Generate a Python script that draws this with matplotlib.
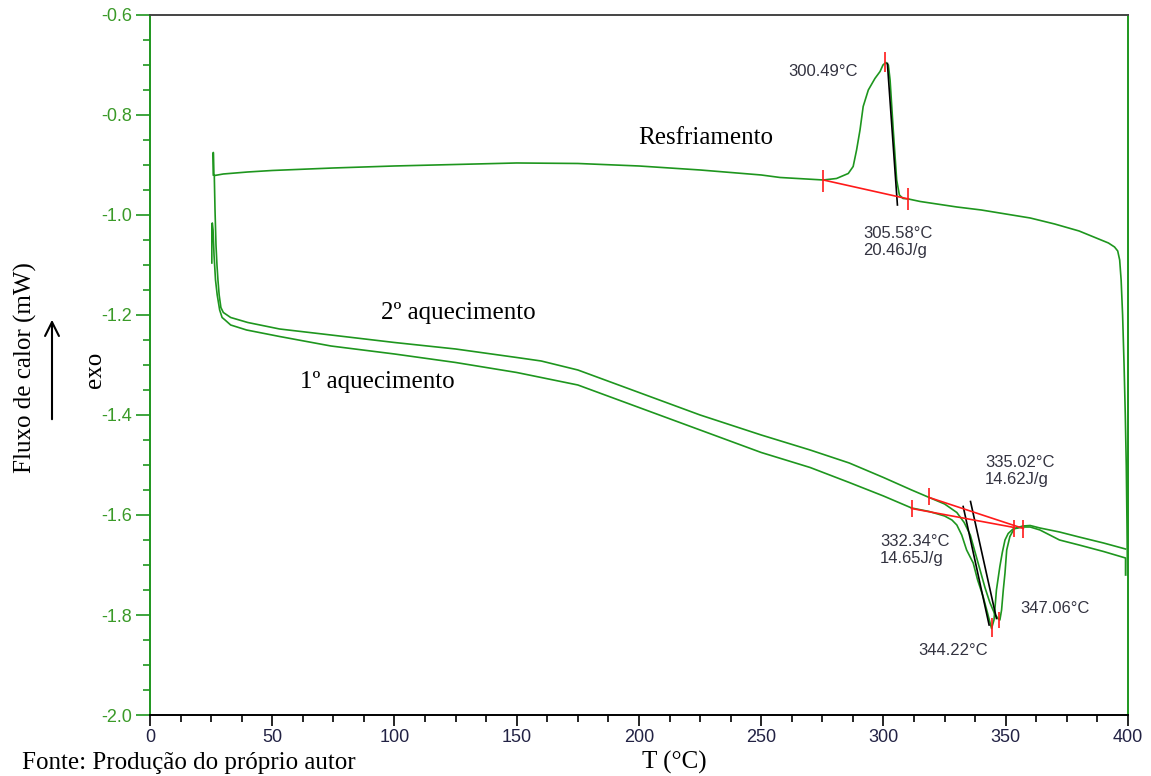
import matplotlib
matplotlib.use("Agg")
import matplotlib.pyplot as plt
from matplotlib.ticker import MultipleLocator, FormatStrFormatter

plt.rcParams['axes.unicode_minus'] = False

# cooling run (Resfriamento)
cool_T = [25.9, 25.9, 26.1, 26.5, 30, 40, 50, 75, 100, 125, 150, 175, 200, 225, 250,
          257.7, 275.4, 280.8, 285.6, 287.6, 289.0, 290.4, 291.7, 293.8, 296.5, 298.6,
          299.8, 301.0, 302.0, 302.7, 304.0, 304.7, 305.4, 306.5, 308.0, 310.2, 315,
          330, 340, 350, 360, 370, 380, 388, 392, 394.5, 395.8, 396.6, 397.2, 397.8,
          398.4, 398.9, 399.3, 399.6, 399.8]
cool_y = [-0.92, -0.875, -0.92, -0.921, -0.918, -0.914, -0.911, -0.906, -0.902, -0.899,
          -0.896, -0.897, -0.902, -0.91, -0.92, -0.925, -0.93, -0.927, -0.917, -0.903,
          -0.87, -0.83, -0.783, -0.75, -0.727, -0.713, -0.70, -0.695, -0.70, -0.73,
          -0.83, -0.88, -0.93, -0.96, -0.967, -0.968, -0.973, -0.984, -0.99, -0.998,
          -1.006, -1.018, -1.032, -1.048, -1.056, -1.064, -1.072, -1.09, -1.13, -1.2,
          -1.3, -1.4, -1.5, -1.62, -1.72]

# 2nd heating (2º aquecimento)
h2_T = [26.3, 26.6, 27.0, 27.4, 27.8, 28.3, 29.0, 30, 33, 40, 53, 74, 100, 125, 150, 160,
        175, 200, 225, 250, 270, 286, 300, 311.5, 318.7, 325, 330, 333, 335.5, 337.5,
        339.5, 341.5, 343.5, 345.5, 347, 347.6, 348.3, 349, 349.7, 350.4, 351.7, 353.5,
        357, 360, 364, 368, 372, 380, 390, 399]
h2_y = [-0.92, -0.99, -1.06, -1.10, -1.13, -1.16, -1.185, -1.195, -1.205, -1.215, -1.228,
        -1.24, -1.255, -1.268, -1.285, -1.292, -1.31, -1.355, -1.40, -1.44, -1.47, -1.496,
        -1.525, -1.55, -1.565, -1.578, -1.595, -1.615, -1.64, -1.675, -1.71, -1.745,
        -1.775, -1.798, -1.808, -1.81, -1.79, -1.75, -1.716, -1.67, -1.643, -1.627,
        -1.622, -1.621, -1.626, -1.63, -1.634, -1.644, -1.656, -1.668]

# 1st heating (1º aquecimento)
h1_T = [25.3, 25.3, 25.5, 25.8, 26.2, 26.8, 27.5, 28.5, 29.5, 30.7, 33, 39.5, 53, 74, 100,
        125, 150, 175, 200, 225, 250, 270, 286, 300, 311.5, 318.7, 325, 328, 330, 332,
        334, 336.7, 338.5, 340.8, 342.5, 344.2, 345.2, 346.2, 347.6, 348.6, 349.7, 351,
        353, 357, 360, 364, 368, 372, 380, 390, 399, 399]
h1_y = [-1.096, -1.02, -1.016, -1.03, -1.08, -1.13, -1.16, -1.19, -1.205, -1.21, -1.22,
        -1.23, -1.243, -1.262, -1.278, -1.295, -1.315, -1.34, -1.385, -1.43, -1.475,
        -1.505, -1.535, -1.562, -1.586, -1.593, -1.602, -1.61, -1.62, -1.64, -1.67,
        -1.696, -1.73, -1.764, -1.795, -1.827, -1.81, -1.75, -1.703, -1.675, -1.65,
        -1.637, -1.628, -1.624, -1.624, -1.63, -1.64, -1.65, -1.66, -1.673, -1.686, -1.72]

# onset tangents (black) and integration baselines (red)
tangents = [([301.6, 305.7], [-0.697, -0.98]),
            ([335.6, 346.2], [-1.573, -1.807]),
            ([332.6, 343.2], [-1.583, -1.82])]
baselines = [([275.4, 310.2], [-0.930, -0.968]),
             ([318.7, 357.2], [-1.565, -1.627]),
             ([311.5, 353.5], [-1.587, -1.625])]
# red markers: x, y low, y high
marker_x = [275.4, 310.2, 300.49, 318.7, 357.2, 311.5, 353.5, 344.22, 347.06]
marker_lo = [-0.954, -0.99, -0.715, -1.58, -1.647, -1.604, -1.644, -1.844, -1.826]
marker_hi = [-0.91, -0.946, -0.675, -1.546, -1.61, -1.57, -1.61, -1.806, -1.794]

# result labels
res_text = ["300.49°C", "305.58°C\n20.46J/g", "335.02°C\n14.62J/g",
            "332.34°C\n14.65J/g", "347.06°C", "344.22°C"]
res_x = [261.0, 291.6, 341.5, 298.6, 355.8, 314.1]
res_y = [-0.714, -1.054, -1.512, -1.67, -1.786, -1.87]

green = '#1e961e'
serif = 'Liberation Serif'
sans = 'Liberation Sans'

fig = plt.figure(figsize=(11.51, 7.76), dpi=100)
ax = fig.add_axes([0.1303, 0.0786, 0.8497, 0.9021])

ax.plot(cool_T, cool_y, color=green, lw=1.2)
ax.plot(h2_T, h2_y, color=green, lw=1.2)
ax.plot(h1_T, h1_y, color=green, lw=1.2)
for xs, ys in tangents:
    ax.plot(xs, ys, color='black', lw=1.2)
for xs, ys in baselines:
    ax.plot(xs, ys, color='#ff1a1a', lw=1.2)
ax.vlines(marker_x, marker_lo, marker_hi, color='#ff1a1a', lw=1.2)

for t, x, y in zip(res_text, res_x, res_y):
    ax.text(x, y, t, fontsize=12, family=sans, color='#333340',
            ha='left', va='center', linespacing=1.15)

ax.text(199.6, -0.846, "Resfriamento", fontsize=18, family=serif, va='center')
ax.text(94.5, -1.196, "2º aquecimento", fontsize=18, family=serif, va='center')
ax.text(61.3, -1.334, "1º aquecimento", fontsize=18, family=serif, va='center')

ax.set_xlim(0, 400)
ax.set_ylim(-2.0, -0.6)
ax.xaxis.set_major_locator(MultipleLocator(50))
ax.xaxis.set_minor_locator(MultipleLocator(12.5))
ax.yaxis.set_major_locator(MultipleLocator(0.2))
ax.yaxis.set_minor_locator(MultipleLocator(0.05))
ax.yaxis.set_major_formatter(FormatStrFormatter('%.1f'))

ax.spines['left'].set_color(green)
ax.spines['right'].set_color(green)
ax.spines['top'].set_color('#444444')
ax.spines['bottom'].set_color('black')
for s in ax.spines.values():
    s.set_linewidth(1.4)

ax.tick_params(axis='y', which='major', length=10, width=1.2, color=green,
               labelcolor='#3a9a28', labelsize=13, pad=3)
ax.tick_params(axis='y', which='minor', length=5, width=1.2, color=green)
ax.tick_params(axis='x', which='major', length=8, width=1.2, color='black',
               labelcolor='#222244', labelsize=13, pad=2)
ax.tick_params(axis='x', which='minor', length=5, width=1.2, color='black')
for lab in ax.get_xticklabels() + ax.get_yticklabels():
    lab.set_family(sans)

fig.text(0.5856, 0.018, "T (°C)", fontsize=18, family=serif, ha='center', va='center')
fig.text(0.0217, 0.5258, "Fluxo de calor (mW)", fontsize=18, family=serif,
         rotation=90, ha='center', va='center')
fig.text(0.0825, 0.523, "exo", fontsize=18, family=serif, rotation=90,
         ha='center', va='center')
fig.text(22 / 1151, 2 / 776, "Fonte: Produção do próprio autor", fontsize=18,
         family=serif, ha='left', va='bottom')
ax.annotate("", xy=(52 / 1151, 1 - 317 / 776), xytext=(52 / 1151, 1 - 422 / 776),
            xycoords='figure fraction', textcoords='figure fraction',
            arrowprops=dict(arrowstyle='->', color='black', lw=1.5, mutation_scale=25))

fig.savefig("out.png", dpi=100)
